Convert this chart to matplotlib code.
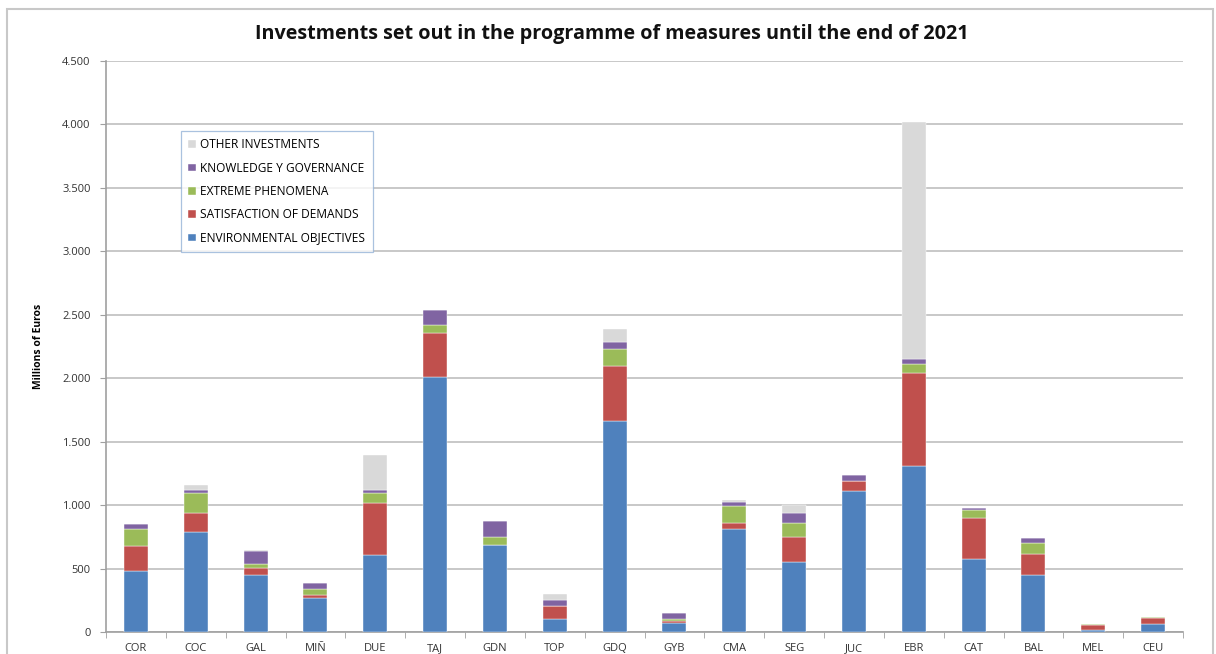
import numpy as np
import matplotlib.pyplot as plt
from matplotlib.patches import Rectangle
from matplotlib.ticker import FuncFormatter, MultipleLocator

# river basin districts
basins = ['COR', 'COC', 'GAL', 'MIÑ', 'DUE', 'TAJ', 'GDN', 'TOP', 'GDQ',
          'GYB', 'CMA', 'SEG', 'JUC', 'EBR', 'CAT', 'BAL', 'MEL', 'CEU']

# millions of euros per measure type
environmental = [481, 791, 449, 265, 609, 2010, 686, 102, 1663,
                 73, 809, 549, 1108, 1305, 575, 448, 19, 66]
satisfaction = [194, 144, 53, 29, 410, 349, 0, 100, 433,
                11, 53, 202, 80, 738, 321, 163, 36, 45]
extreme = [134, 158, 36, 45, 74, 58, 60, 5, 134,
           16, 134, 108, 0, 69, 63, 88, 9, 8]
knowledge = [44, 26, 103, 45, 28, 121, 131, 45, 58,
             52, 31, 76, 48, 41, 17, 39, 0, 0]
other = [0, 39, 9, 0, 274, 0, 0, 47, 100,
         0, 16, 63, 0, 1869, 0, 0, 0, 0]

series = [
    ('ENVIRONMENTAL OBJECTIVES', environmental, '#4F81BD'),
    ('SATISFACTION OF DEMANDS', satisfaction, '#C0504D'),
    ('EXTREME PHENOMENA', extreme, '#9BBB59'),
    ('KNOWLEDGE Y GOVERNANCE', knowledge, '#8064A2'),
    ('OTHER INVESTMENTS', other, '#D9D9D9'),
]

plt.rcParams['font.family'] = ['Open Sans', 'DejaVu Sans']

fig = plt.figure(figsize=(12.16, 6.54), dpi=100)
ax = fig.add_axes([0.0872, 0.0336, 0.8857, 0.8731])

# outer chart frame
fig.patches.append(Rectangle((7 / 1216, -0.05), 1206 / 1216, 1 - 9 / 654 + 0.05,
                             transform=fig.transFigure, fill=False,
                             edgecolor='#c8c8c8', linewidth=1.5))

x = np.arange(len(basins))
bottom = np.zeros(len(basins))
handles = []
for name, vals, col in series:
    vals = np.array(vals, dtype=float)
    b = ax.bar(x, vals, width=0.4, bottom=bottom, color=col, label=name,
               edgecolor='#ffffff', linewidth=0.3, zorder=3)
    handles.append(b)
    bottom += vals

ax.set_xlim(-0.5, len(basins) - 0.5)
ax.set_ylim(0, 4500)
ax.yaxis.set_major_locator(MultipleLocator(500))
ax.yaxis.set_major_formatter(FuncFormatter(lambda v, p: f'{int(v):,}'.replace(',', '.')))
ax.grid(axis='y', color='#bfbfbf', linewidth=1.2, zorder=0)

ax.set_xticks(x)
ax.set_xticklabels(basins)
ax.set_xticks(np.arange(-0.5, len(basins)), minor=True)
ax.tick_params(axis='x', which='major', length=0, labelsize=8, pad=8, colors='#333333')
ax.tick_params(axis='x', which='minor', length=4, color='#a0a0a0', direction='out')
ax.tick_params(axis='y', length=4, color='#a0a0a0', labelsize=8, pad=7, labelcolor='#333333')

for s in ['top', 'right']:
    ax.spines[s].set_visible(False)
for s in ['left', 'bottom']:
    ax.spines[s].set_color('#a0a0a0')
    ax.spines[s].set_linewidth(1.2)

ax.set_ylabel('Millions of Euros', fontsize=7.5, fontweight='bold')
ax.yaxis.set_label_coords(-0.058, 0.5)

fig.text(0.503, 0.948, 'Investments set out in the programme of measures until the end of 2021',
         ha='center', va='center', fontsize=14.2, fontweight='bold', color='#111111')

leg = ax.legend(handles=handles[::-1], loc='upper left',
                bbox_to_anchor=((181 - 106) / 1077, (632 - 131) / 571),
                fontsize=8.6, frameon=True, fancybox=False, handlelength=0.6,
                handleheight=0.6, handletextpad=0.4, labelspacing=0.86,
                borderpad=0.62, borderaxespad=0)
leg.get_frame().set_edgecolor('#95B3D7')
leg.get_frame().set_linewidth(0.9)

plt.savefig('out.png', dpi=100)
